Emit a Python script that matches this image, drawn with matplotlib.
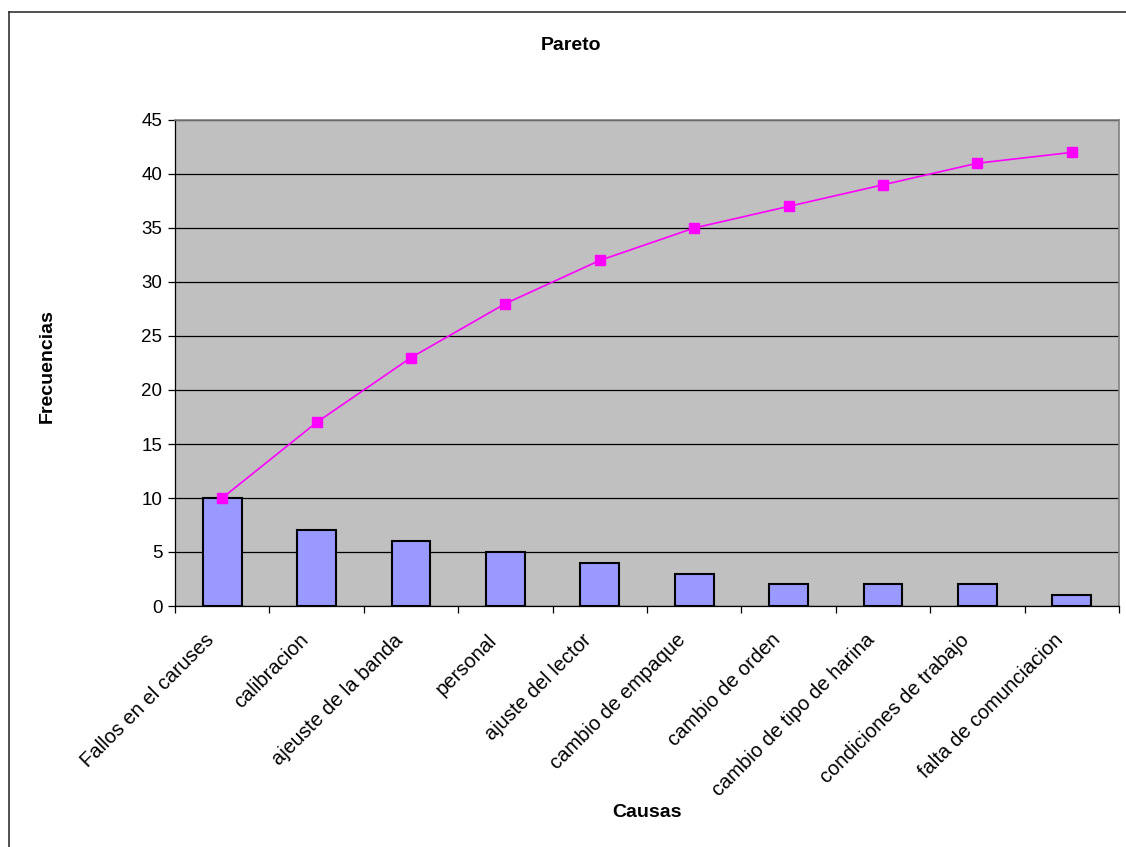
import matplotlib
matplotlib.use('Agg')
import matplotlib.pyplot as plt
from matplotlib.transforms import ScaledTranslation
import numpy as np

causas = ['Fallos en el caruses', 'calibracion', 'ajeuste de la banda', 'personal',
          'ajuste del lector', 'cambio de empaque', 'cambio de orden',
          'cambio de tipo de harina', 'condiciones de trabajo', 'falta de comunciacion']
frecuencias = [10, 7, 6, 5, 4, 3, 2, 2, 2, 1]
acumulado = [10, 17, 23, 28, 32, 35, 37, 39, 41, 42]
y_ticks = [0, 5, 10, 15, 20, 25, 30, 35, 40, 45]

plt.rcParams['font.family'] = ['Liberation Sans', 'DejaVu Sans']

fig = plt.figure(figsize=(11.26, 8.47), dpi=100)
ax = fig.add_axes([175/1126, 1-606/847, (1119-175)/1126, (606-120)/847])

x = np.arange(len(causas))
ax.set_facecolor('#C0C0C0')
ax.set_axisbelow(True)
ax.yaxis.grid(True, color='black', linewidth=0.9)
ax.bar(x, frecuencias, width=0.41, color='#9999FF', edgecolor='black', linewidth=1.5, zorder=2)
ax.plot(x, acumulado, color='#FF00FF', linewidth=1.2, marker='s', markersize=7.5,
        markeredgecolor='#FF00FF', zorder=3)

ax.set_xlim(-0.5, len(causas) - 0.5)
ax.set_ylim(0, 45)
ax.set_yticks(y_ticks)
ax.tick_params(axis='y', labelsize=13.5, length=5, width=0.9, direction='out', pad=4)

ax.set_xticks(np.arange(len(causas) + 1) - 0.5)
ax.set_xticklabels([])
ax.tick_params(axis='x', which='major', length=5, width=0.9, direction='out')
ax.set_xticks(x, minor=True)
ax.set_xticklabels(causas, minor=True, rotation=45, ha='right', va='top',
                   rotation_mode='anchor', fontsize=14.5)
ax.tick_params(axis='x', which='minor', length=0, pad=19)
# las etiquetas quedan un poco a la izquierda del centro de la categoria
desplaza = ScaledTranslation(-0.18, 0.02, fig.dpi_scale_trans)
for lbl in ax.get_xticklabels(minor=True):
    lbl.set_transform(lbl.get_transform() + desplaza)

for s in ['top', 'right']:
    ax.spines[s].set_color('#808080')
    ax.spines[s].set_linewidth(1.2)
for s in ['left', 'bottom']:
    ax.spines[s].set_color('black')
    ax.spines[s].set_linewidth(0.9)

fig.text(571/1126, 1-45/847, 'Pareto', ha='center', va='center', fontsize=14, fontweight='bold')
fig.text(647/1126, 1-812/847, 'Causas', ha='center', va='center', fontsize=14, fontweight='bold')
fig.text(47/1126, 1-366/847, 'Frecuencias', ha='center', va='center', rotation=90,
         fontsize=14, fontweight='bold')

# borde del grafico (solo se ven el lado izquierdo y el superior)
fig.add_artist(plt.Line2D([9/1126, 9/1126], [0, 1-12/847], color='#333333', linewidth=1.2))
fig.add_artist(plt.Line2D([9/1126, 1], [1-12/847, 1-12/847], color='#333333', linewidth=1.2))

fig.savefig('out.png', dpi=100)
